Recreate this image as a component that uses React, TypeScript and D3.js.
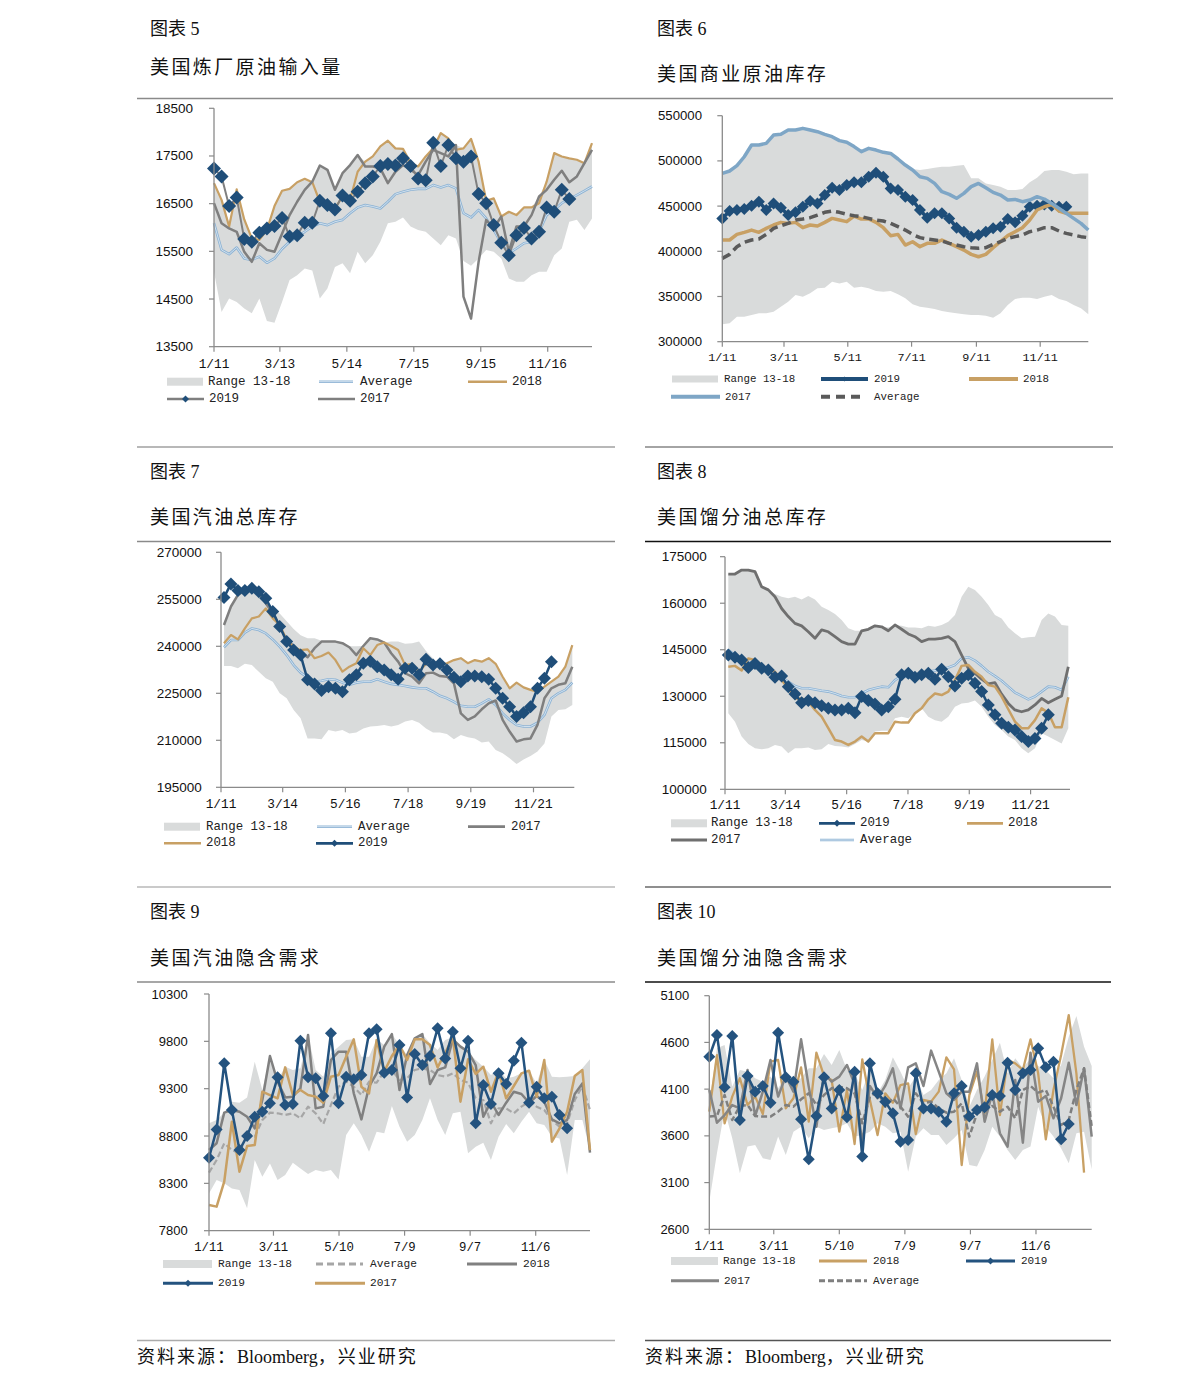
import React from 'react';
import * as d3 from 'd3';

// ---------------- DATA ----------------
// Chart 5: US refinery crude input
const p1Ticks = ['1/11', '3/13', '5/14', '7/15', '9/15', '11/16'];
const p1TickDays = [0, 61, 123, 185, 247, 309];
const p1Y2019 = [17240,17070,16450,16630,15760,15700,15890,15980,16030,16200,15810,15840,16100,16100,16560,16470,16380,16670,16560,16750,16930,17070,17290,17330,17300,17450,17290,17030,16990,17780,17290,17730,17450,17380,17490,16700,16510,16050,15680,15420,15840,15990,15770,15910,16420,16330,16790,16600];
const p1Y2018 = [16930,16580,16020,16800,16170,15770,15740,15950,16450,16770,16810,16950,17020,16950,16540,16470,16400,16650,16580,17170,17380,17490,17700,17820,17660,17650,17350,17280,17490,17660,17980,17870,17630,17660,17860,17380,16560,16610,16230,16330,16260,16420,16420,16510,16960,17560,17490,17450,17420,17350,17770];
const p1Y2017 = [16510,16090,15980,15910,15490,15280,15670,15530,15490,15870,16260,16540,16790,16960,17300,17210,16790,17140,17310,17520,17280,17280,17240,16930,17170,17310,17210,17100,17380,17630,17560,17490,17730,14550,14090,15280,16160,15980,16230,15490,16020,16020,16260,16650,16790,17000,17190,16950,17070,17350,17630];
const p1Avg = [16090,15530,15440,15580,15350,15320,15390,15260,15350,15550,15700,15810,15910,16020,16090,16050,16120,16160,16300,16420,16470,16440,16400,16540,16700,16750,16790,16810,16810,16890,16840,16890,16820,16300,16210,16370,16190,15950,15670,15460,15560,15670,15700,15910,16260,16370,16510,16600,16680,16770,16860];
const p1Hi = [16930,16600,16100,16800,16170,15800,15700,15950,16450,16770,16810,16950,17020,16960,17300,17210,16800,17140,17310,17520,17380,17490,17700,17820,17660,17650,17350,17280,17490,17660,17980,17870,17730,17660,17860,17380,16560,16610,16230,16330,16260,16420,16420,16650,16960,17560,17490,17450,17420,17350,17770];
const p1Lo = [15070,14230,14510,14440,14300,14200,14510,14040,14000,14440,14900,15000,15140,15100,14510,14720,15170,15250,15040,15490,15250,15420,15700,16090,16120,16210,16020,15950,15910,15770,15630,15840,15770,15300,15200,15350,15530,15490,15350,14930,14860,14860,15000,15070,15070,15420,15560,16120,16160,15950,16190];

// Chart 6: US commercial crude stocks
const p2Ticks = ['1/11', '3/11', '5/11', '7/11', '9/11', '11/11'];
const p2TickDays = [0, 59, 120, 181, 243, 304];
const p2Y2017 = [486200,488800,494700,504600,517600,517600,519400,528600,529400,534100,534100,536000,534100,532300,529400,526800,522400,520600,515800,510200,513900,512000,509500,508300,502100,495400,489900,482500,480700,475100,465900,463000,458600,464100,471500,475100,470400,465200,462200,456700,457400,454900,456700,460400,457800,453000,447500,442000,436400,430900,423500];
const p2Y2019 = [436400,444500,445700,446800,450500,454900,445700,453000,448200,440100,443100,449300,455600,453000,462200,470400,467800,473300,476300,476300,482500,486900,482500,469600,467800,460400,456700,445700,437200,442000,442000,436400,426100,421700,416200,418000,421700,425400,427200,435700,432000,439400,449300,450500,451900,450500,449300,449300];
const p2Y2018 = [412500,412500,418700,421000,423500,421000,425400,429100,432000,430900,432000,426100,429100,428000,432000,436400,434600,432800,439000,435700,435700,432000,426100,417300,418700,406900,410600,405100,408800,408800,412500,408800,405100,401400,396600,394000,396600,404000,410600,417300,421700,426100,434600,445700,449300,451900,444500,442000,442000,442000,442000];
const p2Avg = [392200,396600,405100,409900,412500,413600,418700,425400,428300,430900,434600,435700,437200,440100,443100,444500,443100,440900,439400,438300,436400,434600,433500,430900,427200,423500,418700,415100,413600,412500,411400,408800,406900,405100,404000,403300,404000,407700,410600,414300,416200,418000,421700,423500,426100,426100,422400,419800,418000,416200,415100];
const p2Hi = [486200,488800,494700,504600,517600,517600,519400,528600,529400,534100,534100,536000,534100,532300,529400,526800,522400,520600,515800,510200,513900,512000,509500,508300,502100,495400,491000,489900,491000,492500,493600,493600,494500,495400,480700,480700,475100,473300,471500,467800,467800,468800,476300,481400,488800,489900,489900,488100,485100,486200,486200];
const p2Lo = [319200,320300,327700,327700,329500,331400,331400,333200,338700,344300,351600,349800,353500,359000,359700,366400,364500,366400,359700,360900,359000,356100,355300,356100,352400,348000,341300,338700,337600,336100,333900,332500,331400,330300,329500,329500,328800,326600,331400,340600,347200,348700,348700,347200,349800,351600,347200,345000,340600,336900,330300];

// Chart 7: US total gasoline stocks
const p3Ticks = ['1/11', '3/14', '5/16', '7/18', '9/19', '11/21'];
const p3TickDays = [0, 62, 125, 188, 251, 314];
const p3Y2019 = [255600,259900,257800,257800,258500,257400,255300,251100,246300,241500,238800,237200,229300,228000,225900,227100,226600,225500,229300,230900,234600,235200,233500,232400,230900,229500,233000,233000,230900,235900,234000,234400,232400,230100,228700,230500,230500,230300,229500,226600,223400,220700,217600,218800,220700,226600,229800,235100];
const p3Y2018 = [241000,243600,242200,245700,248900,249500,252100,248900,246800,242000,239700,238800,239000,236200,236900,238000,235600,231900,233500,234600,239400,237200,240400,241200,240100,238800,234000,234400,231900,234400,233700,234000,234600,235600,236200,234600,235600,235100,236200,234400,230300,226600,228400,226900,226100,225500,227100,228700,230300,233500,240400];
const p3Y2017 = [246800,252700,256400,257800,258500,256900,253700,250500,246300,242000,240100,238000,236500,239400,241500,241500,241500,241000,239700,237200,240100,242600,242200,241200,237800,235100,231400,230300,228200,231400,231600,230500,230300,228200,218600,216500,217600,219900,221800,222700,216500,212800,209600,210300,210600,214900,223400,226600,227700,228200,233500];
const p3Avg = [239700,242000,242000,244400,245700,245200,244100,242200,239900,237200,234000,231600,230100,228700,229000,229500,229300,228400,227700,228400,228700,228700,229500,228700,228000,227700,227300,226900,226600,226600,225500,224200,223400,222300,221000,220700,220700,221800,223100,221300,218600,216500,214900,214400,214400,215600,218100,223400,225000,226100,228400];
const p3Hi = [246800,252700,256400,257800,258500,256900,253700,252100,250500,248000,245500,243500,242600,242600,241800,241500,241500,241000,240000,240000,240100,242600,242200,241200,241500,241500,240800,241000,241500,238500,236200,234000,234600,235600,236200,234600,235600,235100,236200,234400,230300,226600,228400,226900,226100,225500,227100,228700,230300,233500,240400];
const p3Lo = [233700,233700,233000,234400,234000,231900,229800,228700,225000,223400,219700,217000,210600,210600,210300,213300,212800,213300,212200,212500,213800,214400,214600,214900,214400,214900,216000,216500,215600,213800,212500,212500,212000,210300,211700,211000,210600,209300,209600,206900,205900,204300,202400,203900,205000,206400,209000,217600,219700,219900,221300];

// Chart 8: US total distillate stocks
const p4Ticks = ['1/11', '3/14', '5/16', '7/18', '9/19', '11/21'];
const p4TickDays = [0, 62, 125, 188, 251, 314];
const p4Y2017 = [169400,169400,170700,170700,170200,165300,164300,162100,158300,155700,153500,152700,150800,148700,151400,150800,149200,147600,146800,146800,151100,151600,152700,152400,151100,153000,151600,150100,149200,147600,148400,148400,148700,149200,147600,143300,139000,137400,135500,134000,134400,130700,127700,125600,125000,125600,127200,129300,127900,129000,130100,139500];
const p4Y2019 = [143300,142600,141700,139300,140600,139000,138500,136100,136500,133100,130700,127900,128600,127900,126900,126100,125600,125600,126100,124700,129900,128600,127500,125600,126600,129000,136900,137400,136100,136900,137400,135500,138700,136300,133300,135800,136900,134200,131500,127200,124000,121300,120000,119100,117000,115400,116400,119700,124000];
const p4Y2018 = [139500,139800,138300,142200,141700,140100,138500,137900,135200,132600,129300,129300,128300,125600,123400,119700,115900,115400,114300,115400,117000,115400,118100,118100,118100,121800,121500,121500,124500,126100,129000,130900,130400,131500,135200,139800,140100,137900,136300,133600,133100,129900,125800,121800,119700,119700,122300,126100,124700,120000,120000,129700];
const p4Avg = [144900,143300,141700,141200,140100,138700,137900,137400,136300,134700,133300,132600,132600,132200,131800,131500,130900,130100,129700,129700,130900,132000,132600,133100,132900,135200,136500,136100,136900,137400,137900,138300,138700,139300,140100,142200,142600,141500,139800,137900,136500,135000,133100,131200,130100,129000,129900,131500,133100,132900,132000,136300];
const p4Hi = [169400,169400,170700,170700,170200,165300,164300,163000,162100,161600,162100,161200,162300,161200,158900,157800,156500,154600,151900,151100,151100,151900,152700,152400,152200,153000,152700,152200,152200,151900,152700,152400,153000,154000,156200,162100,165300,164300,162100,159400,156200,155100,152200,150300,148700,149000,149200,154600,156700,155700,153000,152700];
const p4Lo = [124500,121800,117000,114600,113200,112900,113200,114300,113800,111600,113200,113200,113500,112700,112900,114600,114000,113800,113500,114600,115900,115400,118600,118900,118900,122900,123400,122900,124500,126100,123400,122300,121800,123400,126600,127700,127900,128600,126600,123400,120700,119100,117000,115900,113200,111600,113200,118100,117000,115900,114800,119700];

// Chart 9: US gasoline implied demand
const p5Ticks = ['1/11', '3/11', '5/10', '7/9', '9/7', '11/6'];
const p5TickDays = [0, 59, 119, 179, 239, 299];
const p5Y2019 = [8571,8870,9568,9075,8652,8800,9004,9057,9145,9420,9128,9138,9807,9420,9409,9223,9885,9145,9427,9399,9444,9885,9927,9469,9497,9761,9208,9666,9550,9645,9937,9620,9902,9515,9807,8934,9339,9138,9462,9349,9596,9786,9152,9321,9198,9216,9022,8881];
const p5Y2017 = [8071,8054,8318,8951,8423,8694,8705,9268,9233,9198,9525,9233,9286,9233,9216,9152,9427,9444,9638,9821,9321,9251,9814,9480,9645,9761,9603,9821,9821,9761,9525,9680,9842,9163,9610,9455,9532,9268,9480,9198,9328,9462,9490,9216,9603,8740,8881,9057,9434,9497,8652];
const p5Y2018 = [8652,8723,9047,9075,9057,9004,8881,9180,9645,9374,9208,9216,9304,9867,9092,9110,9603,9691,9691,9251,8976,9321,9462,9744,9877,9286,9656,9832,9877,9349,9497,9525,9821,9744,9691,9550,9004,9163,9022,9152,9268,9244,9152,9223,9163,8976,8934,8969,9244,9356,8624];
const p5Avg = [8413,8547,8723,8652,8617,8828,8793,8969,9047,9040,9022,9040,8987,9110,9040,8927,9128,9321,9374,9321,9233,9374,9363,9480,9497,9392,9409,9497,9515,9497,9444,9427,9462,9392,9363,9198,9180,8934,9092,9092,9040,9110,9163,9110,9075,8969,8899,8934,9180,9328,9075];
const p5Hi = [8934,8969,9047,9163,9152,9208,9585,9286,9645,9392,9532,9497,9515,9867,9497,9427,9673,9744,9814,9821,9638,9638,9821,9761,9877,9761,9656,9832,9877,9779,9709,9814,9842,9744,9691,9603,9532,9444,9497,9409,9427,9462,9490,9356,9603,9427,9420,9427,9434,9515,9610];
const p5Lo = [8194,8335,8300,8247,8230,8036,8547,8370,8511,8335,8388,8518,8458,8399,8441,8423,8441,8342,8811,8934,8811,8635,8846,8828,9117,8899,8740,8811,8969,9198,8969,8811,9040,9057,8617,8687,8730,8547,8793,8927,8828,8952,9057,8934,8916,8793,8775,8388,8969,8969,8652];

// Chart 10: US distillate implied demand
const p6Ticks = ['1/11', '3/11', '5/10', '7/9', '9/7', '11/6'];
const p6TickDays = [0, 59, 119, 179, 239, 299];
const p6Y2019 = [4447,4679,4119,4669,3770,4241,4073,4134,3955,4704,4226,4180,3777,3349,3813,4226,3894,4091,3798,4287,3378,4376,4055,3966,3841,3538,3556,4269,3894,3894,3859,3752,4055,4134,3806,3877,3905,4037,4026,4383,4091,4269,4305,4537,4333,4394,3563,3727];
const p6Y2018 = [3859,4465,3734,4020,4216,3930,4020,3834,4394,4412,3894,4002,4333,3752,4490,4241,4198,3645,4091,3513,4419,3984,3609,4055,3955,4144,4162,3620,3984,3966,4073,4440,4312,3288,4037,4287,3841,4633,3823,4412,4376,4305,4633,4269,3563,4091,4465,4893,4269,3206];
const p6Y2017 = [4091,3741,3823,3930,3894,4305,3813,4073,4412,4020,4241,4073,4633,4127,3698,4269,4180,4234,4358,4155,3520,4134,4002,4134,4323,3894,4333,4376,4134,4512,4287,4055,3984,4073,4073,4376,3752,4055,3627,3485,4198,3527,4490,3966,4027,3788,4002,4383,3930,4323,3592];
const p6Avg = [3806,3813,4037,3770,3920,3930,3813,3806,3806,3859,3930,3912,3991,4055,3930,4037,4109,4127,4109,4055,3734,4020,4073,3912,4002,3912,3806,4055,3948,3966,3894,3848,3859,3948,3592,3841,3877,3920,3859,3912,3788,4091,4134,4063,4091,3912,3716,3770,4091,4323,3698];
const p6Hi = [3948,4537,4572,4127,4305,4287,4216,4180,4234,4109,4234,4180,4216,4323,4323,4476,4358,4519,4305,4269,4091,4305,4055,4198,4440,4287,4109,4234,4037,4091,4198,4269,4430,4198,3912,4091,4234,4412,4597,4269,4430,4323,4430,4348,4305,4216,4358,4661,4883,4555,4348];
const p6Lo = [2896,3413,3877,3574,3199,3485,3502,3360,3342,3592,3395,3645,3698,3574,3698,3663,3681,3698,3734,3592,3609,3645,3734,3698,3627,3645,3217,3592,3681,3609,3609,3502,3574,3663,3288,3271,3449,3698,3592,3449,3342,3449,3485,3912,3698,3592,3467,3306,3627,3645,3242];

// ---------------- STYLE ----------------
const RANGE = '#d9dbdb';
const BLUE = '#1f4e79';
const TAN = '#c8a064';
const GRAY = '#7f7f7f';
const LBLUE = '#8db3d4';
const LBLUE_IN = '#e2ecf5';
const CJK = "'Liberation Serif','Noto Sans CJK SC',serif";
const NUM = "'Liberation Sans', Arial, sans-serif";
const MONO = "'Liberation Mono','DejaVu Sans Mono',monospace";

type LineSpec = {
  values: number[];
  color: string;
  width: number;
  dash?: string;
  inner?: string;
  marker?: { color: string; size: number };
};
type LegendSpec = {
  kind: 'area' | 'line';
  x1: number; x2: number; row: number; labelX: number; label: string;
  color: string; width?: number; dash?: string; inner?: string; marker?: number; markerColor?: string;
};
type PanelSpec = {
  left: number; right: number; top: number; bottom: number;
  yDomain: [number, number]; yStep: number;
  dEnd: number; d0: number; step: number;
  tickDays: number[]; tickLabels: string[];
  yLabelX: number; xLabelY: number; yFont: number; xFont: number;
  hi: number[]; lo: number[];
  lines: LineSpec[];
  legendRows: [number, number]; legendFont: number; legendSwatchH: number;
  legend: LegendSpec[];
};

const diamondPath = (diag: number) => d3.symbol(d3.symbolSquare, (diag / Math.SQRT2) ** 2)() || '';

function Panel({ p }: { p: PanelSpec }) {
  const x = d3.scaleLinear().domain([0, p.dEnd]).range([p.left, p.right]);
  const y = d3.scaleLinear().domain(p.yDomain).range([p.bottom, p.top]);
  const px = (i: number) => x(p.d0 + i * p.step);
  const area = d3.area<number>().x((_, i) => px(i)).y0((_, i) => y(p.lo[i])).y1((d) => y(d));
  const line = d3.line<number>().x((_, i) => px(i)).y((d) => y(d));
  const yTicks = d3.range(p.yDomain[0], p.yDomain[1] + 1, p.yStep);
  const axisColor = '#8a8a8a';
  return (
    <g>
      <path d={area(p.hi) || ''} fill={RANGE} />
      {p.lines.map((l, k) => (
        <g key={k}>
          <path d={line(l.values) || ''} fill="none" stroke={l.color} strokeWidth={l.width}
            strokeDasharray={l.dash} strokeLinejoin="round" />
          {l.inner && <path d={line(l.values) || ''} fill="none" stroke={l.inner} strokeWidth={0.8} />}
          {l.marker && l.values.map((v, i) => (
            <path key={i} d={diamondPath(l.marker!.size)} fill={l.marker!.color}
              transform={`translate(${px(i)},${y(v)}) rotate(45)`} />
          ))}
        </g>
      ))}
      {/* axes */}
      <line x1={p.left} x2={p.left} y1={p.top} y2={p.bottom} stroke={axisColor} strokeWidth={1.3} />
      <line x1={p.left} x2={p.right} y1={p.bottom} y2={p.bottom} stroke={axisColor} strokeWidth={1.3} />
      {yTicks.map((t) => (
        <g key={t}>
          <line x1={p.left - 5} x2={p.left} y1={y(t)} y2={y(t)} stroke={axisColor} strokeWidth={1.2} />
          <text x={p.yLabelX} y={y(t)} textAnchor="end" dominantBaseline="central"
            fontFamily={NUM} fontSize={p.yFont} fill="#111">{t}</text>
        </g>
      ))}
      {p.tickDays.map((d, i) => (
        <g key={d}>
          <line x1={x(d)} x2={x(d)} y1={p.bottom} y2={p.bottom + 5} stroke={axisColor} strokeWidth={1.2} />
          <text x={x(d)} y={p.xLabelY} textAnchor="middle" dominantBaseline="central"
            fontFamily={MONO} fontSize={p.xFont} fill="#111">{p.tickLabels[i]}</text>
        </g>
      ))}
      {/* legend */}
      {p.legend.map((g, k) => {
        const yy = p.legendRows[g.row];
        return (
          <g key={k}>
            {g.kind === 'area' ? (
              <rect x={g.x1} y={yy - p.legendSwatchH / 2} width={g.x2 - g.x1} height={p.legendSwatchH} fill={RANGE} />
            ) : (
              <g>
                <line x1={g.x1} x2={g.x2} y1={yy} y2={yy} stroke={g.color} strokeWidth={g.width}
                  strokeDasharray={g.dash} />
                {g.inner && <line x1={g.x1} x2={g.x2} y1={yy} y2={yy} stroke={g.inner} strokeWidth={0.8} />}
                {g.marker && (
                  <path d={diamondPath(g.marker)} fill={g.markerColor || BLUE}
                    transform={`translate(${(g.x1 + g.x2) / 2},${yy}) rotate(45)`} />
                )}
              </g>
            )}
            <text x={g.labelX} y={yy} dominantBaseline="central" fontFamily={MONO}
              fontSize={p.legendFont} fill="#222">{g.label}</text>
          </g>
        );
      })}
    </g>
  );
}

const panels: PanelSpec[] = [
  {
    left: 214, right: 592, top: 108.3, bottom: 346.7, yDomain: [13500, 18500], yStep: 1000,
    dEnd: 350, d0: 0, step: 7, tickDays: p1TickDays, tickLabels: p1Ticks,
    yLabelX: 193, xLabelY: 364, yFont: 13.5, xFont: 12.8, hi: p1Hi, lo: p1Lo,
    lines: [
      { values: p1Avg, color: LBLUE, width: 2.6, inner: LBLUE_IN },
      { values: p1Y2018, color: TAN, width: 2.2 },
      { values: p1Y2017, color: GRAY, width: 2.5 },
      { values: p1Y2019, color: GRAY, width: 2, marker: { color: BLUE, size: 14 } },
    ],
    legendRows: [381.7, 399], legendFont: 12.5, legendSwatchH: 8,
    legend: [
      { kind: 'area', x1: 167, x2: 203, row: 0, labelX: 208, label: 'Range 13-18', color: RANGE },
      { kind: 'line', x1: 319, x2: 353, row: 0, labelX: 360, label: 'Average', color: LBLUE, width: 2.6, inner: LBLUE_IN },
      { kind: 'line', x1: 468, x2: 507, row: 0, labelX: 512, label: '2018', color: TAN, width: 2.6 },
      { kind: 'line', x1: 167, x2: 204, row: 1, labelX: 209, label: '2019', color: GRAY, width: 2.6, marker: 7 },
      { kind: 'line', x1: 318, x2: 355, row: 1, labelX: 360, label: '2017', color: GRAY, width: 2.6 },
    ],
  },
  {
    left: 722.3, right: 1088.3, top: 115.7, bottom: 341.7, yDomain: [300000, 550000], yStep: 50000,
    dEnd: 350, d0: 0, step: 7, tickDays: p2TickDays, tickLabels: p2Ticks,
    yLabelX: 702, xLabelY: 358.3, yFont: 13.2, xFont: 11.8, hi: p2Hi, lo: p2Lo,
    lines: [
      { values: p2Y2019, color: BLUE, width: 3.5, marker: { color: BLUE, size: 12 } },
      { values: p2Y2018, color: TAN, width: 3.5 },
      { values: p2Avg, color: '#5a5a5a', width: 3.5, dash: '9,5' },
      { values: p2Y2017, color: '#7ea6c6', width: 3.5 },
    ],
    legendRows: [379, 396.7], legendFont: 10.8, legendSwatchH: 7,
    legend: [
      { kind: 'area', x1: 672, x2: 718, row: 0, labelX: 724, label: 'Range 13-18', color: RANGE },
      { kind: 'line', x1: 821, x2: 868, row: 0, labelX: 874, label: '2019', color: BLUE, width: 4, marker: 5 },
      { kind: 'line', x1: 969, x2: 1018, row: 0, labelX: 1023, label: '2018', color: TAN, width: 4 },
      { kind: 'line', x1: 671, x2: 720, row: 1, labelX: 725, label: '2017', color: '#7ea6c6', width: 4 },
      { kind: 'line', x1: 821, x2: 865, row: 1, labelX: 874, label: 'Average', color: '#5a5a5a', width: 4, dash: '9,6' },
    ],
  },
  {
    left: 221, right: 574.3, top: 552.3, bottom: 787.3, yDomain: [195000, 270000], yStep: 15000,
    dEnd: 355, d0: 3, step: 7, tickDays: p3TickDays, tickLabels: p3Ticks,
    yLabelX: 201.7, xLabelY: 804, yFont: 13.5, xFont: 12.8, hi: p3Hi, lo: p3Lo,
    lines: [
      { values: p3Avg, color: LBLUE, width: 2.6, inner: LBLUE_IN },
      { values: p3Y2017, color: GRAY, width: 2.5 },
      { values: p3Y2018, color: TAN, width: 2.2 },
      { values: p3Y2019, color: BLUE, width: 2.5, marker: { color: BLUE, size: 13 } },
    ],
    legendRows: [826.7, 843.3], legendFont: 12.4, legendSwatchH: 8,
    legend: [
      { kind: 'area', x1: 164, x2: 200, row: 0, labelX: 206, label: 'Range 13-18', color: RANGE },
      { kind: 'line', x1: 317, x2: 352, row: 0, labelX: 358, label: 'Average', color: LBLUE, width: 2.6, inner: LBLUE_IN },
      { kind: 'line', x1: 468, x2: 505, row: 0, labelX: 511, label: '2017', color: GRAY, width: 2.8 },
      { kind: 'line', x1: 164, x2: 201, row: 1, labelX: 206, label: '2018', color: TAN, width: 2.6 },
      { kind: 'line', x1: 316, x2: 353, row: 1, labelX: 358, label: '2019', color: BLUE, width: 2.8, marker: 7 },
    ],
  },
  {
    left: 725, right: 1070, top: 556.7, bottom: 789.3, yDomain: [100000, 175000], yStep: 15000,
    dEnd: 354.5, d0: 3.4, step: 6.85, tickDays: p4TickDays, tickLabels: p4Ticks,
    yLabelX: 706.7, xLabelY: 805.7, yFont: 13.5, xFont: 12.8, hi: p4Hi, lo: p4Lo,
    lines: [
      { values: p4Avg, color: LBLUE, width: 2.6, inner: LBLUE_IN },
      { values: p4Y2017, color: '#6f6f6f', width: 2.8 },
      { values: p4Y2018, color: TAN, width: 2.5 },
      { values: p4Y2019, color: BLUE, width: 2.5, marker: { color: BLUE, size: 13 } },
    ],
    legendRows: [823.3, 840], legendFont: 12.4, legendSwatchH: 8,
    legend: [
      { kind: 'area', x1: 671, x2: 707, row: 0, labelX: 711, label: 'Range 13-18', color: RANGE },
      { kind: 'line', x1: 819, x2: 855, row: 0, labelX: 860, label: '2019', color: BLUE, width: 2.8, marker: 7 },
      { kind: 'line', x1: 967, x2: 1003, row: 0, labelX: 1008, label: '2018', color: TAN, width: 2.8 },
      { kind: 'line', x1: 671, x2: 707, row: 1, labelX: 711, label: '2017', color: '#6f6f6f', width: 2.8 },
      { kind: 'line', x1: 820, x2: 854, row: 1, labelX: 860, label: 'Average', color: LBLUE, width: 2.6, inner: LBLUE_IN },
    ],
  },
  {
    left: 209, right: 590, top: 994, bottom: 1230.7, yDomain: [7800, 10300], yStep: 500,
    dEnd: 348.7, d0: 0, step: 6.974, tickDays: p5TickDays, tickLabels: p5Ticks,
    yLabelX: 187.7, xLabelY: 1247.7, yFont: 13, xFont: 12.3, hi: p5Hi, lo: p5Lo,
    lines: [
      { values: p5Avg, color: '#a6a6a6', width: 2.2, dash: '6,3' },
      { values: p5Y2018, color: '#808080', width: 2.5 },
      { values: p5Y2017, color: TAN, width: 2.5 },
      { values: p5Y2019, color: '#24537f', width: 2.5, marker: { color: '#24537f', size: 12 } },
    ],
    legendRows: [1264, 1283.3], legendFont: 11.2, legendSwatchH: 8,
    legend: [
      { kind: 'area', x1: 163, x2: 212, row: 0, labelX: 218, label: 'Range 13-18', color: RANGE },
      { kind: 'line', x1: 316, x2: 363, row: 0, labelX: 370, label: 'Average', color: '#a6a6a6', width: 3, dash: '7,4' },
      { kind: 'line', x1: 467, x2: 517, row: 0, labelX: 523, label: '2018', color: '#808080', width: 3 },
      { kind: 'line', x1: 163, x2: 213, row: 1, labelX: 218, label: '2019', color: '#24537f', width: 3, marker: 7, markerColor: '#24537f' },
      { kind: 'line', x1: 315, x2: 365, row: 1, labelX: 370, label: '2017', color: TAN, width: 3 },
    ],
  },
  {
    left: 709.3, right: 1091.7, top: 995.7, bottom: 1229.3, yDomain: [2600, 5100], yStep: 500,
    dEnd: 350, d0: 0, step: 7, tickDays: p6TickDays, tickLabels: p6Ticks,
    yLabelX: 689.3, xLabelY: 1246.7, yFont: 13, xFont: 12.3, hi: p6Hi, lo: p6Lo,
    lines: [
      { values: p6Y2018, color: TAN, width: 2.3 },
      { values: p6Y2017, color: '#858585', width: 2.5 },
      { values: p6Avg, color: '#7f7f7f', width: 2.5, dash: '6,3' },
      { values: p6Y2019, color: '#24537f', width: 2.5, marker: { color: '#24537f', size: 12 } },
    ],
    legendRows: [1261, 1280.7], legendFont: 11, legendSwatchH: 8,
    legend: [
      { kind: 'area', x1: 671, x2: 718, row: 0, labelX: 723, label: 'Range 13-18', color: RANGE },
      { kind: 'line', x1: 819, x2: 867, row: 0, labelX: 873, label: '2018', color: TAN, width: 3 },
      { kind: 'line', x1: 966, x2: 1015, row: 0, labelX: 1021, label: '2019', color: '#24537f', width: 3, marker: 7, markerColor: '#24537f' },
      { kind: 'line', x1: 671, x2: 719, row: 1, labelX: 724, label: '2017', color: '#858585', width: 3 },
      { kind: 'line', x1: 819, x2: 867, row: 1, labelX: 873, label: 'Average', color: '#7f7f7f', width: 3, dash: '6,3' },
    ],
  },
];

const headers = [
  { x: 150, yNum: 29, yTitle: 67, num: '图表 5', title: '美国炼厂原油输入量' },
  { x: 657, yNum: 29, yTitle: 74, num: '图表 6', title: '美国商业原油库存' },
  { x: 150, yNum: 472, yTitle: 517, num: '图表 7', title: '美国汽油总库存' },
  { x: 657, yNum: 472, yTitle: 517, num: '图表 8', title: '美国馏分油总库存' },
  { x: 150, yNum: 912, yTitle: 958, num: '图表 9', title: '美国汽油隐含需求' },
  { x: 657, yNum: 912, yTitle: 958, num: '图表 10', title: '美国馏分油隐含需求' },
];

const rules = [
  { y: 98.5, x1: 137, x2: 1113, c: '#8a8a8a', w: 1.3 },
  { y: 447, x1: 137, x2: 615, c: '#b8b8b8', w: 2 },
  { y: 447, x1: 645, x2: 1113, c: '#a4a4a4', w: 2 },
  { y: 541.5, x1: 137, x2: 615, c: '#8a8a8a', w: 1.5 },
  { y: 541.5, x1: 645, x2: 1111, c: '#111111', w: 1.5 },
  { y: 887, x1: 137, x2: 615, c: '#b8b8b8', w: 1.6 },
  { y: 887, x1: 645, x2: 1111, c: '#6a6a6a', w: 1.6 },
  { y: 982, x1: 137, x2: 615, c: '#8a8a8a', w: 1.5 },
  { y: 982, x1: 645, x2: 1111, c: '#111111', w: 1.5 },
  { y: 1340.5, x1: 137, x2: 615, c: '#ababab', w: 1.5 },
  { y: 1340.5, x1: 645, x2: 1111, c: '#555555', w: 1.5 },
];

const sourceParts = ['资料来源：', 'Bloomberg', '，兴业研究'];

function Source({ x }: { x: number }) {
  return (
    <text x={x} y={1357} dominantBaseline="central" fontFamily={CJK} fontSize={18} fill="#111">
      <tspan letterSpacing={2}>{sourceParts[0]}</tspan>
      <tspan>{sourceParts[1]}</tspan>
      <tspan letterSpacing={2}>{sourceParts[2]}</tspan>
    </text>
  );
}

export default function App() {
  return (
    <svg width={1191} height={1387} viewBox="0 0 1191 1387"
      style={{ position: 'absolute', left: 0, top: 0, background: '#fff' }}>
      <rect x={0} y={0} width={1191} height={1387} fill="#fff" />
      {rules.map((r, i) => (
        <line key={i} x1={r.x1} x2={r.x2} y1={r.y} y2={r.y} stroke={r.c} strokeWidth={r.w} />
      ))}
      {headers.map((h, i) => (
        <g key={i}>
          <text x={h.x} y={h.yNum} dominantBaseline="central" fontFamily={CJK} fontSize={18} fill="#111">{h.num}</text>
          <text x={h.x} y={h.yTitle} dominantBaseline="central" fontFamily={CJK} fontSize={19}
            letterSpacing={2.4} fill="#111">{h.title}</text>
        </g>
      ))}
      {panels.map((p, i) => <Panel key={i} p={p} />)}
      <Source x={137} />
      <Source x={645} />
    </svg>
  );
}
